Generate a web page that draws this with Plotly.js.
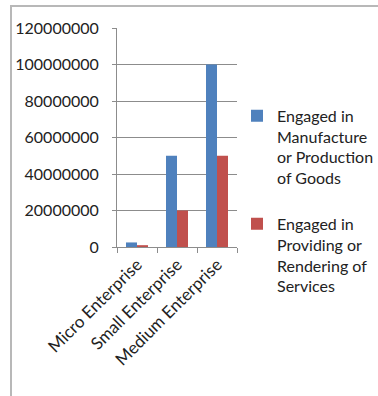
<!DOCTYPE html>
<html>
<head>
<meta charset="utf-8">
<script src="https://cdn.plot.ly/plotly-3.0.1.min.js"></script>
<style>
  html, body { margin: 0; padding: 0; background: #fff; overflow: hidden; }
  #frame { position: absolute; left: 10px; top: 5px; width: 420px; height: 420px;
           border-left: 2px solid #b8b8b8; border-top: 2px solid #b8b8b8; }
  #chart { position: absolute; left: 0; top: 0; width: 378px; height: 396px; }
</style>
</head>
<body>
<div id="frame"></div>
<div id="chart"></div>
<script>
const categories = ["Micro Enterprise", "Small Enterprise", "Medium Enterprise"];
const seriesNames = [
  "Engaged in<br>Manufacture<br>or Production<br>of Goods",
  "Engaged in<br>Providing or<br>Rendering of<br>Services"
];
const manufactureValues = [2500000, 50000000, 100000000];
const servicesValues = [1000000, 20000000, 50000000];
const yTickValues = [0, 20000000, 40000000, 60000000, 80000000, 100000000, 120000000];

const font = "Lato, 'Open Sans', sans-serif";

const data = [
  { type: "bar", x: categories, y: manufactureValues, name: seriesNames[0],
    marker: { color: "#4F81BD" }, legendgroup: "a" },
  { type: "bar", x: categories, y: servicesValues, name: seriesNames[1],
    marker: { color: "#C0504D" }, legendgroup: "b" }
];

const layout = {
  width: 378, height: 396,
  margin: { l: 117, r: 141, t: 28, b: 149, pad: 0, autoexpand: false },
  paper_bgcolor: "rgba(0,0,0,0)", plot_bgcolor: "rgba(0,0,0,0)",
  font: { family: font, size: 16, color: "#222" },
  barmode: "group", bargap: 0.45, bargroupgap: 0,
  showlegend: true,
  legend: { x: 1.0, y: 0.677, xanchor: "left", yanchor: "top", valign: "top",
            font: { family: font, size: 16, color: "#222" }, tracegroupgap: 22,
            bgcolor: "rgba(0,0,0,0)" },
  xaxis: { showline: true, linecolor: "#8c8c8c", linewidth: 1, ticks: "outside",
           ticklen: 5, tickcolor: "#8c8c8c", tickson: "boundaries", tickangle: -45,
           showgrid: false, tickfont: { family: font, size: 17, color: "#222" } },
  yaxis: { range: [0, 120000000], tickvals: yTickValues, tickformat: "d",
           showline: true, linecolor: "#8c8c8c", ticks: "outside", ticklen: 4,
           tickcolor: "#8c8c8c", showgrid: true, gridcolor: "#8c8c8c", zeroline: false,
           ticklabelstandoff: 10, tickfont: { family: font, size: 16, color: "#222" } }
};

Plotly.newPlot("chart", data, layout, { displayModeBar: false, staticPlot: true });
</script>
</body>
</html>
